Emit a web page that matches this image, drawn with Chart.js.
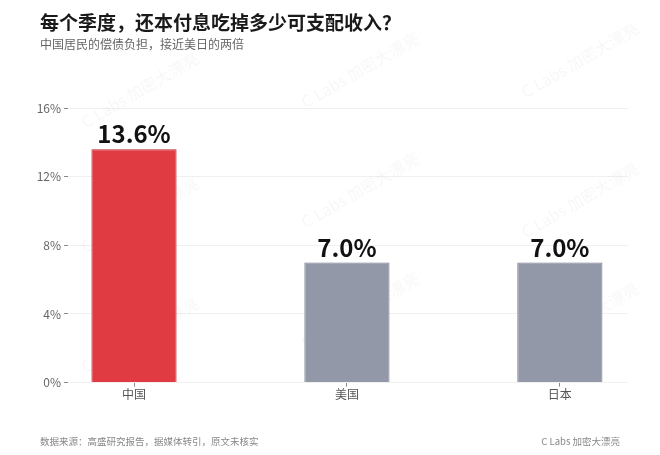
<!DOCTYPE html>
<html>
<head>
<meta charset="utf-8">
<script src="https://cdn.jsdelivr.net/npm/chart.js@4.4.1/dist/chart.umd.min.js"></script>
<style>
  html, body { margin: 0; padding: 0; background: #fff; }
  body { width: 660px; height: 455px; position: relative; overflow: hidden;
         font-family: "Noto Sans CJK SC", "Noto Sans", sans-serif; }
  #chart-wrap { position: absolute; left: 0; top: 0; width: 660px; height: 455px; }
  .title { position: absolute; left: 40px; top: 8px; font-size: 19px; font-weight: 700; color: #1a1a1a; }
  .subtitle { position: absolute; left: 40px; top: 35px; font-size: 12px; color: #666; }
  .source { position: absolute; left: 40px; top: 434px; font-size: 9.5px; color: #888; }
  .brand { position: absolute; right: 40px; top: 434px; font-size: 9.5px; color: #888; }
</style>
</head>
<body>
<div id="chart-wrap"><canvas id="chart" width="660" height="455"></canvas></div>
<div class="title">每个季度，还本付息吃掉多少可支配收入？</div>
<div class="subtitle">中国居民的偿债负担，接近美日的两倍</div>
<div class="source">数据来源：高盛研究报告，据媒体转引，原文未核实</div>
<div class="brand">C Labs 加密大漂亮</div>
<script>
// --- DATA ---
const countries = ['中国', '美国', '日本'];
const debtService = [13.6, 7.0, 7.0];
const yTicks = [0, 4, 8, 12, 16];
const barColors = ['#e03a42', '#9298a7', '#9298a7'];
const barBorders = ['#c0202e', '#767c8e', '#767c8e'];

const FONT = '"Noto Sans CJK SC", "Noto Sans", sans-serif';

// watermark drawn behind the bars
const watermark = {
    id: 'watermark',
    beforeDatasetsDraw(chart) {
        const ctx = chart.ctx;
        const spots = [[140, 90], [360, 70], [580, 60], [140, 215], [360, 190], [580, 200],
                       [140, 335], [360, 310], [580, 320]];
        ctx.save();
        ctx.font = '16px ' + FONT;
        ctx.fillStyle = 'rgba(0,0,0,0.035)';
        ctx.textAlign = 'center';
        ctx.textBaseline = 'middle';
        spots.forEach(([x, y]) => {
            ctx.save();
            ctx.translate(x, y);
            ctx.rotate(-Math.PI / 6);
            ctx.fillText('C Labs 加密大漂亮', 0, 0);
            ctx.restore();
        });
        ctx.restore();
    }
};

// value labels above each bar
const valueLabels = {
    id: 'valueLabels',
    afterDatasetsDraw(chart) {
        const ctx = chart.ctx;
        const meta = chart.getDatasetMeta(0);
        ctx.save();
        ctx.font = 'bold 24px ' + FONT;
        ctx.fillStyle = '#111';
        ctx.textAlign = 'center';
        ctx.textBaseline = 'bottom';
        meta.data.forEach((bar, i) => {
            ctx.fillText(debtService[i].toFixed(1) + '%', bar.x, bar.y - 3);
        });
        ctx.restore();
    }
};

new Chart(document.getElementById('chart'), {
    type: 'bar',
    data: {
        datasets: [{
            data: debtService.map((v, i) => ({ x: i, y: v })),
            backgroundColor: barColors,
            borderColor: barBorders,
            borderWidth: 1,
            barPercentage: 0.4,
            categoryPercentage: 1
        }]
    },
    options: {
        responsive: false,
        animation: false,
        layout: { padding: { top: 108, right: 32, bottom: 52, left: 0 } },
        plugins: {
            legend: { display: false },
            tooltip: { enabled: false }
        },
        scales: {
            x: {
                type: 'linear',
                offset: false,
                min: -0.31,
                max: 2.32,
                afterBuildTicks: (scale) => { scale.ticks = countries.map((c, i) => ({ value: i })); },
                ticks: {
                    callback: (v) => countries[v],
                    color: '#555',
                    font: { family: FONT, size: 12 },
                    padding: 1
                },
                grid: { offset: false, drawOnChartArea: false, drawTicks: true, tickLength: 4, tickColor: '#888' },
                border: { display: false }
            },
            y: {
                min: 0,
                max: 16,
                afterBuildTicks: (scale) => { scale.ticks = yTicks.map(v => ({ value: v })); },
                afterFit: (scale) => { scale.width = 68; },
                ticks: {
                    callback: (v) => v + '%',
                    color: '#666',
                    font: { family: FONT, size: 12 },
                    padding: 3
                },
                grid: { color: '#f0f0f0', tickColor: '#888', tickLength: 4 },
                border: { display: false }
            }
        }
    },
    plugins: [watermark, valueLabels]
});
</script>
</body>
</html>
